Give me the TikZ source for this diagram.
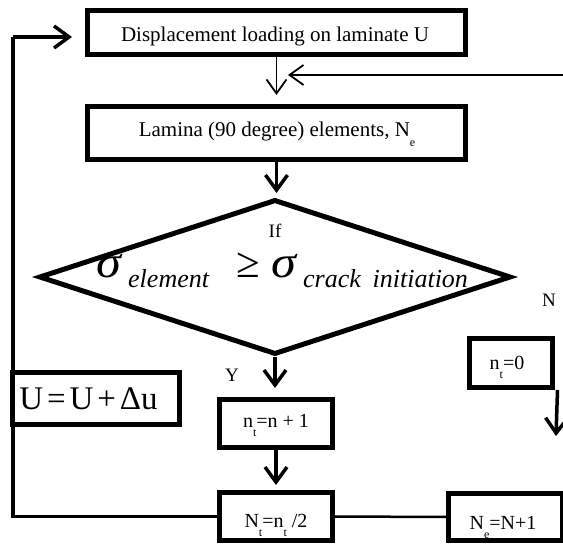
\documentclass[tikz,border=0pt]{standalone}
\usepackage{fontspec}
\setmainfont{Liberation Serif}
\usetikzlibrary{shapes.geometric,arrows.meta}
\newcommand\fs[1]{\fontsize{#1}{#1}\selectfont}
\newcommand\lowsub[2][9pt]{\raisebox{-#1}{\fs{12}#2}}
\begin{document}
\begin{tikzpicture}[x=1pt,y=-1pt,
  box/.style={draw, line width=5pt, inner sep=0pt, fill=white},
  txt/.style={inner sep=0pt, anchor=base, font=\fs{20}},
  frm/.style={inner sep=0pt, anchor=base west},
  thinarr/.style={line width=1.8pt, -{Straight Barb[length=14pt,width=20pt]}},
  thickarr/.style={line width=3.5pt, -{Straight Barb[length=15pt,width=22pt]}},
  loopline/.style={line width=3.5pt},
]
\useasboundingbox (0,0) rectangle (563,545);
% coordinates for free ends
\coordinate (rin) at (580,75);
\coordinate (rtip) at (288,75);
\coordinate (loopc) at (13,37);
\coordinate (looptip) at (72,37);
\coordinate (nt0end) at (556,436);
% boxes
\node[box, minimum width=378pt, minimum height=44pt] (box1) at (276.5,32.5) {};
\node[box, minimum width=378pt, minimum height=53pt] (box2) at (276.5,133) {};
\node[draw, diamond, line width=5pt, inner sep=0pt, minimum width=472pt, minimum height=155pt] (dia) at (275,277) {};
\node[box, minimum width=83pt, minimum height=49pt] (nt0) at (511,363) {};
\node[box, minimum width=113pt, minimum height=48pt] (n1) at (276,423.5) {};
\node[box, minimum width=113pt, minimum height=48pt] (Nt) at (276,516.5) {};
\node[box, minimum width=114pt, minimum height=47pt] (Ne) at (505.5,517) {};
% connectors
\draw[loopline] (Nt.west) -| (loopc);
\draw[loopline, -{Straight Barb[length=15pt,width=22pt]}] (loopc) -- (looptip);
\node[box, minimum width=167pt, minimum height=52pt] (ubox) at (96,398.5) {};
\draw[thinarr] (box1.south) -- ++(0,38) coordinate (jn);
\draw[thinarr] (rin) -- (rtip);
\draw[thickarr] (box2.south) -- (box2.south |- 0,193);
\draw[thickarr] (dia.south) -- (dia.south |- 0,388);
\draw[thickarr] (n1.south) -- (n1.south |- 0,485);
\draw[thickarr] ([xshift=2.5pt]nt0.south east) -- (nt0end);
\draw[line width=2.5pt] (Nt.east) -- (Ne.west);
% texts
\node[txt, font=\fs{21}] (t1) at (275,42) {Displacement loading on laminate U};
\node[txt, font=\fs{21}] (t2) at (277,137) {Lamina (90 degree) elements, N\lowsub[10pt]{e}};
\node[txt, font=\fs{19}] (tif) at (275,238) {If};
\node[frm, font=\fs{45}\itshape] (s1) at (96,278) {\scalebox{1.12}[1]{σ}};
\node[frm, font=\fs{26}\itshape] (s1sub) at (128,288) {element};
\node[frm, font=\fs{43}] (geq) at (236,278) {≥};
\node[frm, font=\fs{45}\itshape] (s2) at (271,278) {\scalebox{1.12}[1]{σ}};
\node[frm, font=\fs{26}\itshape] (s2sub) at (303,288) {crack\hspace{0.45em}initiation};
\node[txt, font=\fs{19}] (tN) at (549,307) {N};
\node[txt, font=\fs{19}] (tY) at (232,382) {Y};
\node[txt] (tnt0) at (507,370) {n\lowsub{t}=0};
\node[txt] (tn1) at (276,428) {n\lowsub{t}=n + 1};
\node[txt] (tNt) at (276,528) {N\lowsub{t}=n\lowsub{t} /2};
\node[txt] (tNe) at (503,530) {N\lowsub{e}=N+1};
\node[txt, font=\fs{33}] (tu) at (88.5,410) {U\hspace{0.12em}=\hspace{0.12em}U\hspace{0.12em}+\hspace{0.12em}Δu};
\end{tikzpicture}
\end{document}
